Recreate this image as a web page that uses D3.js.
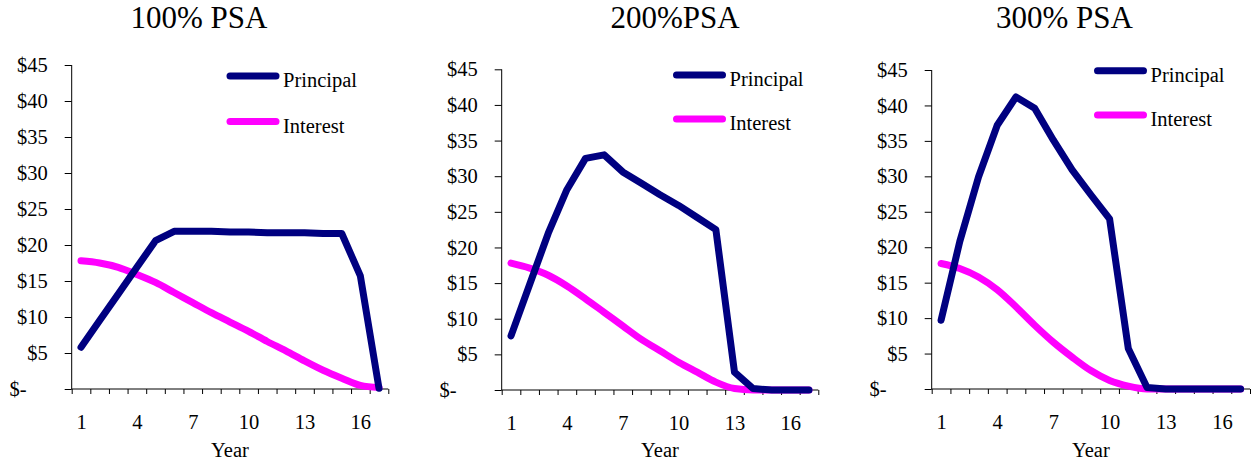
<!DOCTYPE html>
<html>
<head>
<meta charset="utf-8">
<script src="https://cdn.jsdelivr.net/npm/d3@7"></script>
<style>
  body { margin: 0; background: #fff; }
</style>
</head>
<body>
<svg id="chart" width="1254" height="461"></svg>
<script>
// data
var years = d3.range(1, 18)
var yearLabels = [1, 4, 7, 10, 13, 16]
var dollarTicks = [0, 5, 10, 15, 20, 25, 30, 35, 40, 45]
var titles = ["100% PSA", "200%PSA", "300% PSA"]
var seriesNames = ["Principal", "Interest"]

var principal100 = [5.8, 9.5, 13.2, 16.9, 20.6, 21.9, 21.9, 21.9, 21.8, 21.8, 21.7, 21.7, 21.7, 21.6, 21.6, 15.7, 0.1]
var interest100 = [17.8, 17.5, 16.9, 15.9, 14.8, 13.4, 12.0, 10.6, 9.3, 8.0, 6.6, 5.3, 3.9, 2.6, 1.5, 0.5, 0.2]
var principal200 = [7.6, 14.8, 22.0, 28.1, 32.5, 33.0, 30.6, 29.0, 27.4, 25.9, 24.2, 22.5, 2.5, 0.2, 0, 0, 0]
var interest200 = [17.8, 17.1, 16.1, 14.6, 12.8, 10.9, 9.0, 7.1, 5.5, 3.9, 2.5, 1.1, 0.2, 0, 0, 0, 0]
var principal300 = [9.7, 20.8, 29.9, 37.2, 41.2, 39.6, 35.1, 30.9, 27.4, 24.0, 5.7, 0.2, 0, 0, 0, 0, 0]
var interest300 = [17.7, 17.0, 15.8, 14.0, 11.6, 9.0, 6.6, 4.5, 2.6, 1.2, 0.4, 0, 0, 0, 0, 0, 0]

var colorPrincipal = "#000080"
var colorInterest = "#ff00ff"
var serif = "'Liberation Serif', 'Times New Roman', serif"
var labelSize = 20.5

// layout of the three panels
var panels = [
  {title: titles[0], p: principal100, i: interest100, left: 71.7, right: 388.3, top: 65, bottom: 389,
   tx: 199, legX: 230, legY: [76, 121.5]},
  {title: titles[1], p: principal200, i: interest200, left: 501.7, right: 818.3, top: 69.3, bottom: 390,
   tx: 675, legX: 676.5, legY: [75, 119]},
  {title: titles[2], p: principal300, i: interest300, left: 931.7, right: 1250, top: 70, bottom: 389,
   tx: 1064.5, legX: 1097.5, legY: [70.7, 115]}
]

var svg = d3.select("#chart")

function serifText(sel, size){
  sel.attr("font-family", serif).style("font-family", serif)
     .attr("font-size", size).style("font-size", size + "px")
     .attr("fill", "#000")
}

panels.forEach(function(pn){
  var g = svg.append("g")
  var x = d3.scaleLinear().domain([0.5, 17.5]).range([pn.left, pn.right])
  var y = d3.scaleLinear().domain([0, 45]).range([pn.bottom, pn.top])

  g.append("text")
    .attr("x", pn.tx).attr("y", 28)
    .attr("text-anchor", "middle")
    .call(serifText, 31)
    .text(pn.title)

  // y axis
  var yAxis = g.append("g")
    .attr("transform", "translate(" + pn.left + ",0)")
    .call(d3.axisLeft(y).tickValues(dollarTicks).tickSize(7).tickPadding(17)
      .tickFormat(function(d){ return d === 0 ? "$-" : "$" + d }))
  yAxis.attr("font-family", serif).attr("font-size", labelSize)
  yAxis.selectAll("text")
    .call(serifText, labelSize)
    .attr("dx", function(d){ return d === 0 ? -21 : 0 })
  yAxis.select(".domain").attr("d", "M0," + pn.top + "V" + pn.bottom)

  // x axis: ticks between categories, labels every third year
  var xAxis = g.append("g")
    .attr("transform", "translate(0," + pn.bottom + ")")
    .call(d3.axisBottom(x).tickValues(d3.range(0.5, 18, 1)).tickSize(5).tickFormat(""))
  xAxis.select(".domain").attr("d", "M" + pn.left + ",0H" + pn.right)

  var xLab = g.append("g")
    .attr("transform", "translate(0," + pn.bottom + ")")
    .call(d3.axisBottom(x).tickValues(yearLabels).tickSize(0).tickPadding(25))
  xLab.attr("font-family", serif).attr("font-size", labelSize)
  xLab.select(".domain").remove()
  xLab.selectAll("text").call(serifText, labelSize)

  g.append("text")
    .attr("x", (pn.left + pn.right) / 2).attr("y", 457)
    .attr("text-anchor", "middle")
    .call(serifText, labelSize)
    .text("Year")

  var linePrincipal = d3.line()
    .x(function(d, k){ return x(years[k]) })
    .y(function(d){ return y(d) })
  var lineInterest = d3.line()
    .x(function(d, k){ return x(years[k]) })
    .y(function(d){ return y(d) })
    .curve(d3.curveMonotoneX)

  g.append("path").datum(pn.i)
    .attr("d", lineInterest)
    .attr("fill", "none").attr("stroke", colorInterest)
    .attr("stroke-width", 7).attr("stroke-linecap", "round").attr("stroke-linejoin", "round")
  g.append("path").datum(pn.p)
    .attr("d", linePrincipal)
    .attr("fill", "none").attr("stroke", colorPrincipal)
    .attr("stroke-width", 7).attr("stroke-linecap", "round").attr("stroke-linejoin", "round")

  // legend
  var legColors = [colorPrincipal, colorInterest]
  seriesNames.forEach(function(name, k){
    g.append("line")
      .attr("x1", pn.legX).attr("x2", pn.legX + 46)
      .attr("y1", pn.legY[k]).attr("y2", pn.legY[k])
      .attr("stroke", legColors[k]).attr("stroke-width", 7).attr("stroke-linecap", "round")
    g.append("text")
      .attr("x", pn.legX + 53).attr("y", pn.legY[k] + 11)
      .call(serifText, labelSize)
      .text(name)
  })
})
</script>
</body>
</html>
